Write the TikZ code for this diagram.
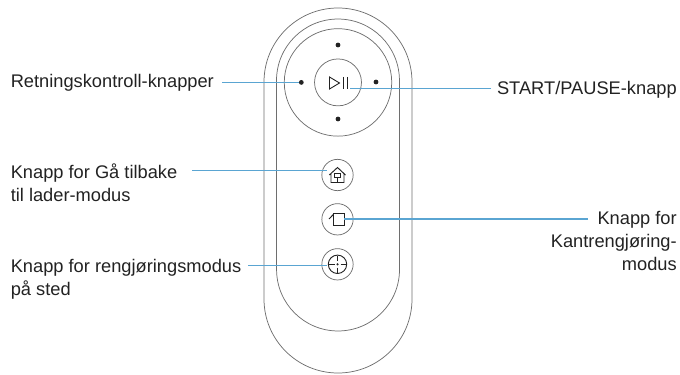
\documentclass[tikz,border=0pt]{standalone}
\usepackage{fontspec}
\setmainfont{Liberation Sans}
\definecolor{leader}{HTML}{5AA5D2}
\definecolor{body}{HTML}{6E6E6E}
\definecolor{txt}{HTML}{222222}
\tikzset{
	outline/.style={draw=body, line width=0.55pt},
	button/.style={circle, draw=body, line width=0.55pt, minimum size=23.5pt, inner sep=0pt},
	dot/.style={circle, fill=txt, minimum size=3.6pt, inner sep=0pt},
	icon/.style={draw=txt, line width=0.7pt, line join=miter},
	leaderline/.style={draw=leader, line width=1.1pt},
	label/.style={text=txt, font=\fontsize{13.7}{17.2}\selectfont, inner sep=0pt}
}
\begin{document}
\begin{tikzpicture}[x=0.75pt, y=-0.75pt]
	\useasboundingbox (0, 0) rectangle (680, 374);
	% Body outlines
	\draw [outline] (264, 82) arc [start angle=180, end angle=0, radius=55.5pt] -- (412, 299) arc [start angle=0, end angle=-180, radius=55.5pt] -- cycle;
	\draw [outline] (276.5, 80.5) arc [start angle=180, end angle=0, radius=46.1pt] -- (399.5, 269.5) arc [start angle=0, end angle=-180, radius=46.1pt] -- cycle;
	% Direction pad
	\node [circle, outline, minimum size=80.6pt, inner sep=0pt] (pad) at (338, 82.4) {};
	\node [button, minimum size=35.2pt] (btn-start) at (338, 82.4) {};
	\foreach \a/\x/\y in {top/338/45, left/301.3/82.4, right/376/82, bottom/338/119}
		\node [dot] (dot-\a) at (\x, \y) {};
	% Lower buttons
	\foreach \a/\y in {home/175, edge/219.3, spot/264.3}
		\node [button] (btn-\a) at (337.5, \y) {};
	% Play/pause icon
	\draw [icon] (329.5, 77) -- (339.5, 83) -- (329.5, 89) -- cycle;
	\draw [icon] (343.3, 77) -- (343.3, 89) (347.7, 77) -- (347.7, 89);
	% Home icon
	\draw [icon] (329.3, 175) -- (337.5, 167.5) -- (345.5, 175) (331, 173.5) -- (331, 182.5) -- (344, 182.5) -- (344, 173.5);
	\draw [icon, line width=0.4pt] (334.5, 173.3) rectangle (340.5, 177.7) (337.5, 177.7) -- (337.5, 182.5);
	% Edge icon
	\draw [icon] (333.3, 213.3) rectangle (344, 225);
	\draw [icon] (333.3, 214.5) -- (329, 219);
	% Spot icon
	\node [circle, icon, minimum size=13.8pt, inner sep=0pt] (spot-ring) at (337.5, 264.3) {};
	\draw [icon] (337.5, 255.5) -- (337.5, 261) (337.5, 267.5) -- (337.5, 273) (329, 264.3) -- (334.5, 264.3) (340.5, 264.3) -- (346, 264.3);
	\node [dot, minimum size=1.8pt] (spot-dot) at (337.5, 264.3) {};
	% Labels
	\node [label, anchor=base west] (lbl-dir) at (10.5, 88) {Retningskontroll-knapper};
	\node [label, anchor=base east] (lbl-start) at (677, 94) {START/PAUSE-knapp};
	\node [label, anchor=north west, align=left] (lbl-home) at (10.5, 164) {Knapp for Gå tilbake\\til lader-modus};
	\node [label, anchor=north east, align=right] (lbl-edge) at (677, 211.5) {Knapp for\\Kantrengjøring-\\modus};
	\node [label, anchor=north west, align=left] (lbl-spot) at (10.5, 259) {Knapp for rengjøringsmodus\\på sted};
	% Leader ends
	\coordinate (end-dir) at (222, 82.4);
	\coordinate (end-start) at (491, 88.5);
	\coordinate (tip-start) at (350, 88.5);
	\coordinate (end-home) at (192, 170.5);
	\coordinate (tip-home) at (326.7, 170.5);
	\coordinate (end-edge) at (588, 219);
	\coordinate (tip-edge) at (344, 219);
	\coordinate (end-spot) at (248, 265.7);
	\coordinate (tip-spot) at (327, 265.7);
	% Leader lines
	\draw [leaderline] (end-dir) -- (dot-left);
	\draw [leaderline] (end-start) -- (tip-start);
	\draw [leaderline] (end-home) -- (tip-home);
	\draw [leaderline] (end-edge) -- (tip-edge);
	\draw [leaderline] (end-spot) -- (tip-spot);
\end{tikzpicture}
\end{document}
